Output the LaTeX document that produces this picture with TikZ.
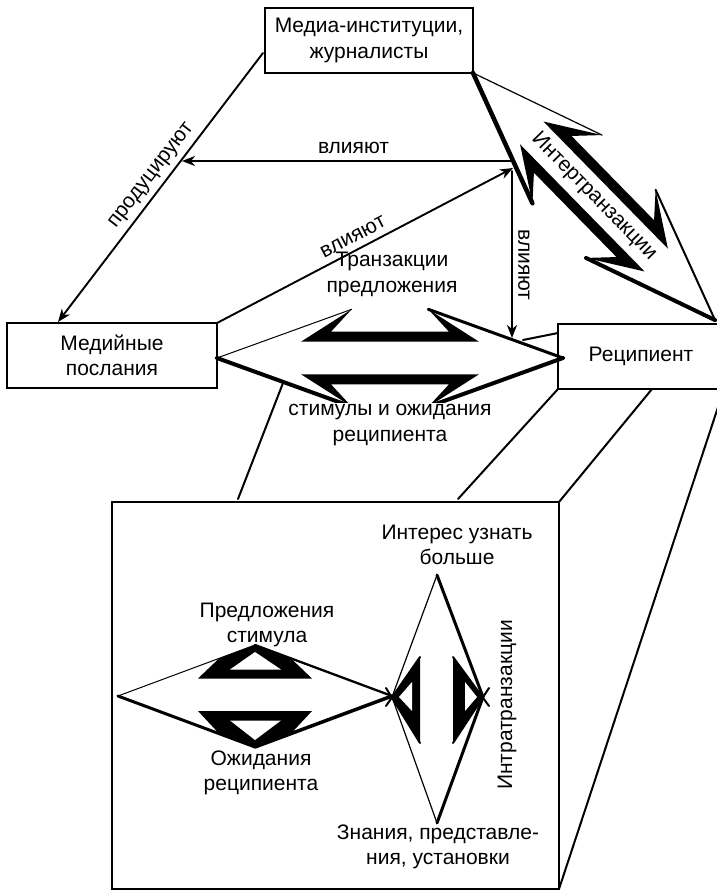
\documentclass[tikz,border=0pt]{standalone}
\usepackage{fontspec}
\setmainfont{Liberation Sans}
\usetikzlibrary{arrows.meta}
% Transaction rhombus: its edges stop at the barb tips of two double
% harpoon arrows lying along the long axis.
% Arguments: widths of the upper-left, upper-right, lower-left, lower-right edges.
\newcommand\txshape[4]{%
  \draw[line width=#1] (-173,0) -- (-38.3,48.7);
  \draw[line width=#2] (38.3,48.7) -- (173,0);
  \draw[line width=#3] (-173,0) -- (-38.3,-48.7);
  \draw[line width=#4] (38.3,-48.7) -- (173,0);
  \fill (-89,16.3) -- (-38.3,48.7) -- (-59,26.3) -- (59,26.3)
        -- (38.3,48.7) -- (89,16.3) -- cycle;
  \fill (-89,-16.3) -- (-38.3,-48.7) -- (-59,-26.3) -- (59,-26.3)
        -- (38.3,-48.7) -- (89,-16.3) -- cycle;
}
\begin{document}
\begin{tikzpicture}[x=1pt,y=-1pt,line cap=round,
  txt/.style={font=\fontsize{21}{25.5}\selectfont, align=center, inner sep=1pt},
  labelbox/.style={draw, line width=2.4pt, txt, inner sep=0pt, outer sep=0pt},
  conn/.style={line width=1.9pt, -{Stealth[length=13pt,width=10pt,inset=4pt]}},
  link/.style={line width=2pt},
]
\useasboundingbox (0,0) rectangle (717,891);

% boxes
\node[labelbox, minimum width=208pt, minimum height=65pt] (media) at (369,40.5) {Медиа-институции,\\журналисты};
\node[labelbox, minimum width=210pt, minimum height=65pt] (msgs) at (112,355.5) {Медийные\\послания};
\node[labelbox, minimum width=166pt, minimum height=65pt] (recip) at (641,356.5) {Реципиент};
\node[draw, line width=2.4pt, minimum width=447pt, minimum height=387pt, inner sep=0pt, outer sep=0pt] (zoombox) at (335.5,695.5) {};

% transactions between messages and recipient
\begin{scope}[shift={(390,358)}, x=1pt, y=1pt]
  \txshape{1pt}{3pt}{4pt}{4pt}
\end{scope}
% intertransactions between media and recipient
\begin{scope}[shift={(594,196.5)}, x=1pt, y=1pt, rotate=-45.6]
  \txshape{1.2pt}{2pt}{4.5pt}{4pt}
\end{scope}

% influence arrows
\coordinate (prodfrom) at (263,53);
\coordinate (prodto) at (58,322);
\coordinate (hubH) at (513,161);
\coordinate (hubD) at (513,168);
\coordinate (hubV) at (512,171);
\coordinate (hleft) at (182,161);
\coordinate (vdown) at (512,338);
\draw[conn] (prodfrom) -- (prodto);
\draw[conn] (hubH) -- (hleft);
\draw[conn] (msgs.north east) -- (hubD);
\draw[conn] (hubV) -- (vdown);

% perspective lines towards the enlarged view
\coordinate (rfoot) at (652,389);
\coordinate (cutL) at (283,383);
\coordinate (cutLend) at (238,499);
\coordinate (cutM) at (458,499);
\coordinate (sideA) at (523,340);
\coordinate (sideB) at (558,333);
\draw[link] (cutL) -- (cutLend);
\draw[link] (recip.south west) -- (cutM);
\draw[link] (rfoot) -- (zoombox.north east);
\draw[link] (recip.south east) -- (zoombox.south east);
\draw[link] (sideA) -- (sideB);

% labels of the upper part
\node[txt, rotate=52.5] (lprod) at (152,176) {продуцируют};
\node[txt] (linfh) at (353.5,148) {влияют};
\node[txt, rotate=27.6] (linfd) at (353,237) {влияют};
\node[txt, rotate=-90] (linfv) at (524,265) {влияют};
\node[txt] (ltop) at (392,274.5) {Транзакции\\предложения};
\node[txt, fill=white] (lbot) at (390,425) {стимулы и ожидания\\реципиента};
\node[txt, rotate=-45.6] (linter) at (594,196.5) {Интертранзакции};

% enlarged view: horizontal rhombus
\coordinate (hl) at (118,696);
\coordinate (ht) at (255,645);
\coordinate (hr) at (392,696);
\coordinate (hb) at (255,747);
\draw[line width=1pt] (hl) -- (ht);
\draw[line width=2.3pt] (ht) -- (hr);
\draw[line width=3pt] (hl) -- (hb);
\draw[line width=3.5pt] (hb) -- (hr);
\fill (198,678.5) -- (219,658.5) -- (ht) -- (291,658.5) -- (312,678.5) -- cycle;
\fill[white] (230,669.5) -- (255,652) -- (281,669.5) -- cycle;
\fill (198,711) -- (219,733.5) -- (hb) -- (291,733.5) -- (312,711) -- cycle;
\fill[white] (230,720.5) -- (255,740) -- (281,720.5) -- cycle;

% enlarged view: vertical rhombus
\coordinate (vl) at (392,697);
\coordinate (vt) at (437,575);
\coordinate (vr) at (483,697);
\coordinate (vb) at (437,823);
\draw[line width=1.2pt] (vt) -- (vl) -- (vb);
\draw[line width=3pt] (vt) -- (vr) -- (vb);
\fill (420,657) -- (vl) -- (420,743) -- cycle;
\draw[line width=2pt] (420,657) -- (386,706);
\draw[line width=2pt] (420,743) -- (386,688);
\fill[white] (412,682) -- (399,697) -- (412,711) -- cycle;
\fill (453,657) -- (vr) -- (453,743) -- cycle;
\draw[line width=2pt] (453,657) -- (489,706);
\draw[line width=2pt] (453,743) -- (489,688);
\fill[white] (465,682) -- (477,697) -- (465,711) -- cycle;

% labels of the enlarged view
\node[txt] (linterest) at (457,545) {Интерес узнать\\больше};
\node[txt] (loffer) at (267,625) {Предложения\\стимула};
\node[txt] (lexpect) at (261,773) {Ожидания\\реципиента};
\node[txt] (lknow) at (438,847) {Знания, представле-\\ния, установки};
\node[txt, rotate=90] (lintra) at (507,705) {Интратранзакции};
\end{tikzpicture}
\end{document}
